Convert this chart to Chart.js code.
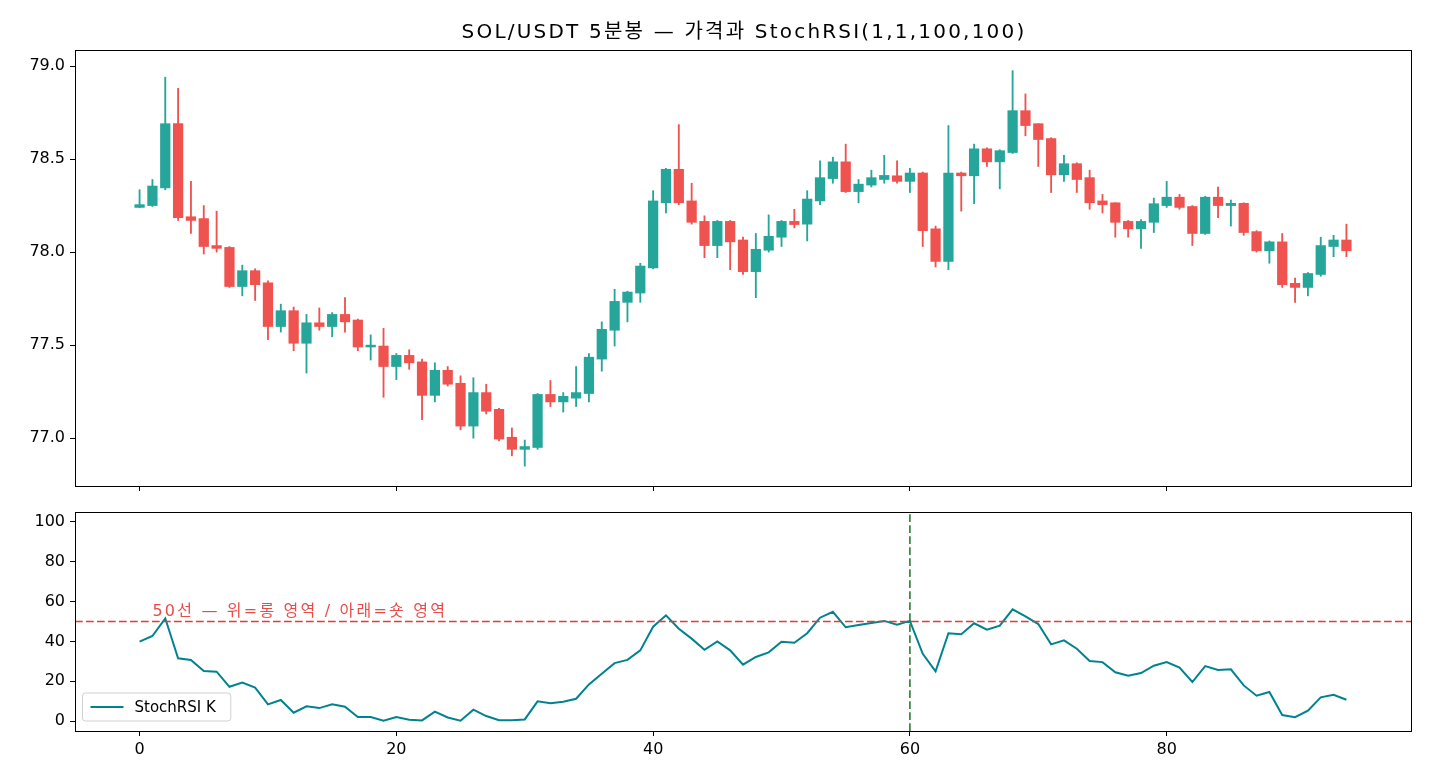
<!DOCTYPE html>
<html>
<head>
<meta charset="utf-8">
<script src="https://cdn.jsdelivr.net/npm/chart.js@4.4.1/dist/chart.umd.min.js"></script>
<style>
html, body { margin: 0; padding: 0; background: #fff; }
#wrap { position: relative; width: 1430px; height: 780px; background: #fff; }
canvas { position: absolute; left: 0; }
#priceChart { top: 0; }
#stochChart { top: 500px; }
</style>
</head>
<body>
<div id="wrap">
  <canvas id="priceChart" width="1430" height="500"></canvas>
  <canvas id="stochChart" width="1430" height="280"></canvas>
</div>
<script>
//---------- data (5 minute candles, index 0..94)
const opens = [78.24,78.25,78.345,78.69,78.19,78.18,78.035,78.025,77.815,77.90,
  77.835,77.60,77.685,77.51,77.62,77.60,77.665,77.635,77.49,77.495,
  77.385,77.445,77.41,77.23,77.365,77.295,77.065,77.245,77.155,77.005,
  76.94,76.95,77.235,77.195,77.215,77.24,77.425,77.58,77.73,77.78,
  77.915,78.265,78.445,78.275,78.165,78.035,78.165,78.065,77.895,78.01,
  78.08,78.165,78.15,78.275,78.395,78.485,78.325,78.36,78.39,78.41,
  78.38,78.425,78.125,77.95,78.425,78.41,78.555,78.485,78.535,78.76,
  78.69,78.61,78.415,78.475,78.40,78.275,78.265,78.165,78.125,78.16,
  78.25,78.295,78.245,78.10,78.295,78.25,78.262,78.11,78.007,78.055,
  77.832,77.81,77.88,78.03,78.065];
const closes = [78.255,78.355,78.69,78.185,78.17,78.03,78.02,77.815,77.90,77.825,
  77.60,77.685,77.51,77.62,77.60,77.665,77.625,77.49,77.50,77.385,
  77.445,77.405,77.23,77.365,77.29,77.065,77.245,77.145,76.995,76.94,
  76.955,77.235,77.195,77.225,77.245,77.435,77.585,77.735,77.785,77.925,
  78.275,78.445,78.265,78.16,78.035,78.165,78.055,77.895,78.015,78.085,
  78.165,78.148,78.285,78.40,78.485,78.325,78.365,78.40,78.412,78.38,
  78.425,78.115,77.95,78.425,78.41,78.555,78.485,78.545,78.76,78.68,
  78.605,78.415,78.475,78.39,78.265,78.255,78.16,78.125,78.165,78.26,
  78.295,78.24,78.10,78.295,78.25,78.262,78.105,78.007,78.055,77.825,
  77.81,77.885,78.035,78.065,78.007];
const highs = [78.335,78.39,78.94,78.88,78.38,78.25,78.22,78.03,77.93,77.91,
  77.845,77.72,77.705,77.665,77.70,77.675,77.755,77.64,77.555,77.59,
  77.455,77.475,77.425,77.405,77.385,77.335,77.325,77.29,77.16,77.055,
  76.99,77.24,77.31,77.245,77.385,77.455,77.625,77.80,77.79,77.94,
  78.33,78.45,78.685,78.37,78.195,78.17,78.17,78.08,78.10,78.20,
  78.17,78.23,78.33,78.49,78.51,78.58,78.39,78.44,78.52,78.49,
  78.45,78.43,78.14,78.68,78.43,78.58,78.56,78.55,78.975,78.85,
  78.69,78.615,78.52,78.48,78.44,78.31,78.265,78.17,78.175,78.29,
  78.38,78.31,78.25,78.30,78.35,78.28,78.265,78.115,78.06,78.10,
  77.86,77.89,78.08,78.09,78.15];
const lows = [78.238,78.245,78.335,78.17,78.10,77.99,78.0,77.81,77.765,77.74,
  77.53,77.57,77.47,77.35,77.58,77.545,77.57,77.47,77.42,77.22,
  77.315,77.37,77.10,77.195,77.28,77.045,77.0,77.13,76.985,76.905,
  76.85,76.94,77.17,77.14,77.17,77.195,77.36,77.495,77.625,77.73,
  77.91,78.21,78.255,78.15,77.97,77.97,77.905,77.88,77.755,78.0,
  78.03,78.13,78.06,78.255,78.37,78.32,78.265,78.35,78.37,78.37,
  78.32,78.03,77.92,77.905,78.22,78.26,78.46,78.34,78.53,78.625,
  78.46,78.32,78.38,78.32,78.23,78.21,78.08,78.08,78.02,78.105,
  78.24,78.23,78.035,78.095,78.185,78.14,78.09,78.0,77.94,77.81,
  77.73,77.765,77.87,77.975,77.975];
const stochK = [39.9,42.7,51.6,31.5,30.7,25.1,24.8,17.2,19.3,16.8,
  8.4,10.6,4.2,7.4,6.5,8.4,7.2,2.0,2.0,0.2,
  2.0,0.7,0.3,4.7,1.8,0.2,5.7,2.5,0.4,0.4,
  0.8,9.9,9.0,9.7,11.2,18.4,23.8,29.1,30.7,35.5,
  47.4,53.1,46.4,41.4,35.8,40.0,35.5,28.3,32.2,34.5,
  39.8,39.3,44.1,51.9,54.9,47.1,48.2,49.2,50.3,48.4,
  50.3,33.8,25.0,44.1,43.6,49.1,45.9,47.9,56.1,52.6,
  48.7,38.5,40.5,36.3,30.2,29.6,24.5,22.8,24.1,27.8,
  29.6,26.8,19.6,27.6,25.6,26.0,17.9,12.7,14.6,3.0,
  1.9,5.2,11.9,13.2,10.7];

// ticks and limits
const xTicks = [0, 20, 40, 60, 80];
const priceTicks = [77.0, 77.5, 78.0, 78.5, 79.0];
const stochTicks = [0, 20, 40, 60, 80, 100];
const xMin = -5.03, xMax = 99.03;
const priceMin = 76.743, priceMax = 79.086;
const stochMin = -5, stochMax = 105;
const midLine = 50;
const signalX = 60;

const titleText = 'SOL/USDT 5분봉 — 가격과 StochRSI(1,1,100,100)';
const noteText = '50선 — 위=롱 영역 / 아래=숏 영역';
const legendLabel = 'StochRSI K';

//---------- styles
const UP = '#26a69a';
const DOWN = '#ef5350';
const LINE = '#00838f';
const FONT = "'DejaVu Sans', 'Noto Sans CJK KR', sans-serif";

Chart.defaults.font.family = FONT;
Chart.defaults.font.size = 16;
Chart.defaults.color = '#000';

const idx = opens.map((o, i) => i);
const candleColors = idx.map(i => closes[i] >= opens[i] ? UP : DOWN);

// box around the plot area, like matplotlib spines
const framePlugin = {
    id: 'frame',
    afterDraw(chart) {
        const {ctx, chartArea: a} = chart;
        ctx.save();
        ctx.strokeStyle = '#000';
        ctx.lineWidth = 1;
        ctx.strokeRect(Math.round(a.left) + 0.5, Math.round(a.top) + 0.5,
            Math.round(a.right - a.left), Math.round(a.bottom - a.top));
        ctx.restore();
    }
};

// figure title centred over the axes
const titlePlugin = {
    id: 'figTitle',
    afterDraw(chart) {
        const {ctx, chartArea: a} = chart;
        ctx.save();
        ctx.font = '20px ' + FONT;
        if ('letterSpacing' in ctx) ctx.letterSpacing = '2.2px';
        ctx.fillStyle = '#000';
        ctx.textAlign = 'center';
        ctx.textBaseline = 'middle';
        ctx.fillText(titleText, (a.left + a.right) / 2 + 1, 33);
        ctx.restore();
    }
};

// text above the 50 line + legend box in lower left
const stochExtras = {
    id: 'stochExtras',
    afterDraw(chart) {
        const {ctx, chartArea: a, scales} = chart;
        ctx.save();
        ctx.font = '16px ' + FONT;
        if ('letterSpacing' in ctx) ctx.letterSpacing = '2.2px';
        ctx.fillStyle = 'rgba(229,57,53,0.9)';
        ctx.textAlign = 'left';
        ctx.textBaseline = 'alphabetic';
        ctx.fillText(noteText, scales.x.getPixelForValue(1), scales.y.getPixelForValue(midLine) - 6);
        if ('letterSpacing' in ctx) ctx.letterSpacing = '0px';

        // legend
        ctx.font = '15px ' + FONT;
        const tw = ctx.measureText(legendLabel).width;
        const bx = a.left + 7.5, by = a.bottom - 38, bw = 59 + tw + 8, bh = 28;
        ctx.fillStyle = 'rgba(255,255,255,0.8)';
        ctx.strokeStyle = '#d0d0d0';
        ctx.lineWidth = 1;
        ctx.beginPath();
        ctx.roundRect(bx, by, bw, bh, 3);
        ctx.fill();
        ctx.stroke();
        ctx.strokeStyle = LINE;
        ctx.lineWidth = 2;
        ctx.beginPath();
        ctx.moveTo(bx + 8, by + bh / 2);
        ctx.lineTo(bx + 41, by + bh / 2);
        ctx.stroke();
        ctx.fillStyle = '#000';
        ctx.textBaseline = 'middle';
        ctx.fillText(legendLabel, bx + 52, by + bh / 2 + 1);
        ctx.restore();
    }
};

const tickGrid = {drawOnChartArea: false, offset: false, color: '#000', tickLength: 5, tickWidth: 1};

// fixed axis sizes so both plot areas line up with the reference
const fixWidth = w => s => { s.width = w; s.paddingTop = 0; s.paddingBottom = 0; };
const fixHeight = h => s => { s.height = h; s.paddingLeft = 0; s.paddingRight = 0; };

//---------- price chart (candles as floating bars)
const priceChart = new Chart(document.getElementById('priceChart'), {
    type: 'bar',
    data: {
        datasets: [{
            label: 'body',
            data: idx.map(i => ({x: i, y: [opens[i], closes[i]]})),
            backgroundColor: candleColors,
            barThickness: 9.6,
            grouped: false
        }, {
            label: 'wick',
            data: idx.map(i => ({x: i, y: [lows[i], highs[i]]})),
            backgroundColor: candleColors,
            barThickness: 1.2,
            grouped: false
        }]
    },
    options: {
        responsive: false,
        animation: false,
        devicePixelRatio: 1,
        layout: {padding: {top: 50, right: 19, left: 0, bottom: 0}},
        plugins: {legend: {display: false}, tooltip: {enabled: false}},
        scales: {
            x: {
                type: 'linear', min: xMin, max: xMax, offset: false,
                afterBuildTicks: s => { s.ticks = xTicks.map(v => ({value: v})); },
                afterFit: fixHeight(14),
                ticks: {display: false},
                grid: tickGrid,
                border: {display: false}
            },
            y: {
                min: priceMin, max: priceMax,
                afterBuildTicks: s => { s.ticks = priceTicks.map(v => ({value: v})); },
                afterFit: fixWidth(75),
                ticks: {callback: v => v.toFixed(1), padding: 5},
                grid: tickGrid,
                border: {display: false}
            }
        }
    },
    plugins: [framePlugin, titlePlugin]
});

//---------- StochRSI chart
const stochChart = new Chart(document.getElementById('stochChart'), {
    type: 'line',
    data: {
        datasets: [{
            label: 'hline',
            data: [{x: xMin, y: midLine}, {x: xMax, y: midLine}],
            borderColor: '#e53935',
            borderWidth: 1.6,
            borderDash: [7.7, 3.3],
            pointRadius: 0
        }, {
            label: 'vline',
            data: [{x: signalX, y: stochMin}, {x: signalX, y: stochMax}],
            borderColor: '#2e7d32',
            borderWidth: 1.6,
            borderDash: [7.7, 3.3],
            pointRadius: 0
        }, {
            label: legendLabel,
            data: idx.map(i => ({x: i, y: stochK[i]})),
            borderColor: LINE,
            borderWidth: 2,
            pointRadius: 0,
            tension: 0
        }]
    },
    options: {
        responsive: false,
        animation: false,
        devicePixelRatio: 1,
        layout: {padding: {top: 12, right: 19, left: 0, bottom: 0}},
        plugins: {legend: {display: false}, tooltip: {enabled: false}},
        scales: {
            x: {
                type: 'linear', min: xMin, max: xMax,
                afterBuildTicks: s => { s.ticks = xTicks.map(v => ({value: v})); },
                afterFit: fixHeight(49),
                ticks: {padding: 4, maxRotation: 0},
                grid: tickGrid,
                border: {display: false}
            },
            y: {
                min: stochMin, max: stochMax,
                afterBuildTicks: s => { s.ticks = stochTicks.map(v => ({value: v})); },
                afterFit: fixWidth(75),
                ticks: {padding: 5},
                grid: tickGrid,
                border: {display: false}
            }
        }
    },
    plugins: [framePlugin, stochExtras]
});
</script>
</body>
</html>
